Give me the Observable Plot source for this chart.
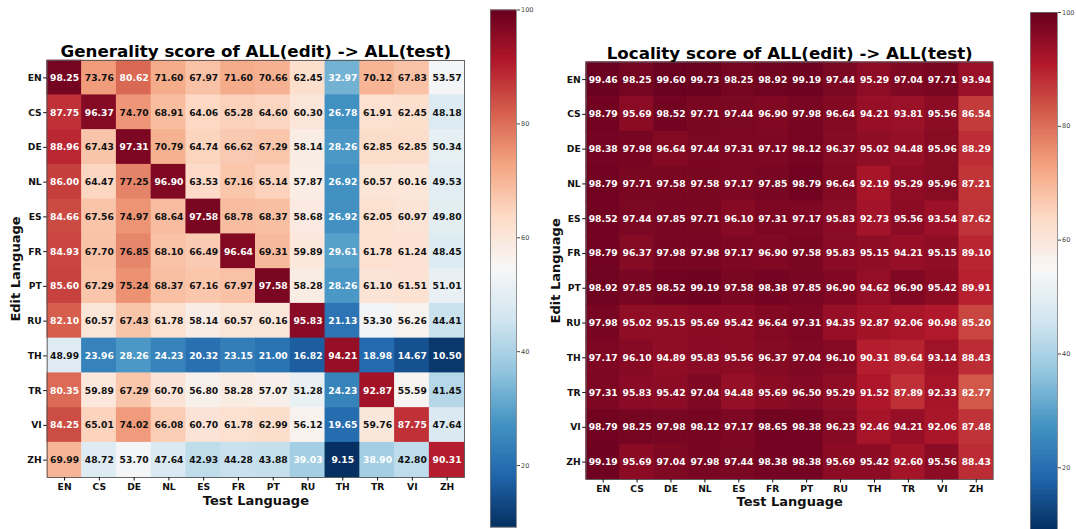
<!DOCTYPE html>
<html>
<head>
<meta charset="utf-8">
<script src="https://cdn.jsdelivr.net/npm/d3@7"></script>
<script src="https://cdn.jsdelivr.net/npm/@observablehq/plot@0.6"></script>
<style>
  html, body { margin: 0; padding: 0; background: #fff; }
  #chart { position: relative; width: 1076px; height: 529px; overflow: hidden; background: #fff; }
  #chart > div { position: absolute; top: 0; }
  #chart svg { overflow: visible; max-width: none !important; }
</style>
</head>
<body>
<div id="chart">
  <div id="genMap" style="left:0px"></div>
  <div id="genBar" style="left:476px"></div>
  <div id="locMap" style="left:540px"></div>
  <div id="locBar" style="left:1016px"></div>
</div>
<script>
// ---- data ----
const langs = ["EN","CS","DE","NL","ES","FR","PT","RU","TH","TR","VI","ZH"];

// rows = edit language, columns = test language
const generality = [
  [98.25, 73.76, 80.62, 71.60, 67.97, 71.60, 70.66, 62.45, 32.97, 70.12, 67.83, 53.57],
  [87.75, 96.37, 74.70, 68.91, 64.06, 65.28, 64.60, 60.30, 26.78, 61.91, 62.45, 48.18],
  [88.96, 67.43, 97.31, 70.79, 64.74, 66.62, 67.29, 58.14, 28.26, 62.85, 62.85, 50.34],
  [86.00, 64.47, 77.25, 96.90, 63.53, 67.16, 65.14, 57.87, 26.92, 60.57, 60.16, 49.53],
  [84.66, 67.56, 74.97, 68.64, 97.58, 68.78, 68.37, 58.68, 26.92, 62.05, 60.97, 49.80],
  [84.93, 67.70, 76.85, 68.10, 66.49, 96.64, 69.31, 59.89, 29.61, 61.78, 61.24, 48.45],
  [85.60, 67.29, 75.24, 68.37, 67.16, 67.97, 97.58, 58.28, 28.26, 61.10, 61.51, 51.01],
  [82.10, 60.57, 67.43, 61.78, 58.14, 60.57, 60.16, 95.83, 21.13, 53.30, 56.26, 44.41],
  [48.99, 23.96, 28.26, 24.23, 20.32, 23.15, 21.00, 16.82, 94.21, 18.98, 14.67, 10.50],
  [80.35, 59.89, 67.29, 60.70, 56.80, 58.28, 57.07, 51.28, 24.23, 92.87, 55.59, 41.45],
  [84.25, 65.01, 74.02, 66.08, 60.70, 61.78, 62.99, 56.12, 19.65, 59.76, 87.75, 47.64],
  [69.99, 48.72, 53.70, 47.64, 42.93, 44.28, 43.88, 39.03,  9.15, 38.90, 42.80, 90.31]
];

const locality = [
  [99.46, 98.25, 99.60, 99.73, 98.25, 98.92, 99.19, 97.44, 95.29, 97.04, 97.71, 93.94],
  [98.79, 95.69, 98.52, 97.71, 97.44, 96.90, 97.98, 96.64, 94.21, 93.81, 95.56, 86.54],
  [98.38, 97.98, 96.64, 97.44, 97.31, 97.17, 98.12, 96.37, 95.02, 94.48, 95.96, 88.29],
  [98.79, 97.71, 97.58, 97.58, 97.17, 97.85, 98.79, 96.64, 92.19, 95.29, 95.96, 87.21],
  [98.52, 97.44, 97.85, 97.71, 96.10, 97.31, 97.17, 95.83, 92.73, 95.56, 93.54, 87.62],
  [98.79, 96.37, 97.98, 97.98, 97.17, 96.90, 97.58, 95.83, 95.15, 94.21, 95.15, 89.10],
  [98.92, 97.85, 98.52, 99.19, 97.58, 98.38, 97.85, 96.90, 94.62, 96.90, 95.42, 89.91],
  [97.98, 95.02, 95.15, 95.69, 95.42, 96.64, 97.31, 94.35, 92.87, 92.06, 90.98, 85.20],
  [97.17, 96.10, 94.89, 95.83, 95.56, 96.37, 97.04, 96.10, 90.31, 89.64, 93.14, 88.43],
  [97.31, 95.83, 95.42, 97.04, 94.48, 95.69, 96.50, 95.29, 91.52, 87.89, 92.33, 82.77],
  [98.79, 98.25, 97.98, 98.12, 97.17, 98.65, 98.38, 96.23, 92.46, 94.21, 92.06, 87.48],
  [99.19, 95.69, 97.04, 97.98, 97.44, 98.38, 98.38, 95.69, 95.42, 92.60, 95.56, 88.43]
];

const colorDomain = [9.15, 100];
const colorbarTicks = [20, 40, 60, 80, 100];
// matplotlib RdBu_r stops (low -> high)
const rdbuStops = ["#053061","#2166ac","#4393c3","#92c5de","#d1e5f0","#f7f7f7","#fddbc7","#f4a582","#d6604d","#b2182b","#67001f"];

// ---- helpers ----
const FONT = "'DejaVu Sans', 'Liberation Sans', sans-serif";
const interp = d3.piecewise(d3.interpolateRgb, rdbuStops);
const colorScale = {type: "linear", domain: colorDomain, interpolate: interp};

function toTable(matrix) {
  return matrix.flatMap((row, i) => row.map((v, j) => ({edit: langs[i], test: langs[j], value: v})));
}

function heatmap(matrix, title, L) {
  const table = toTable(matrix);
  return Plot.plot({
    width: L.width, height: L.height,
    marginLeft: L.ml, marginRight: L.mr, marginTop: L.mt, marginBottom: L.mb,
    style: {fontFamily: FONT, fontWeight: "bold", fontSize: "9.2px", color: "#111", background: "transparent"},
    x: {type: "band", domain: langs, padding: 0, round: false, label: null},
    y: {type: "band", domain: langs, padding: 0, round: false, label: null},
    color: colorScale,
    marks: [
      Plot.cell(table, {x: "test", y: "edit", fill: "value", inset: -0.35}),
      Plot.text(table, {
        x: "test", y: "edit",
        text: d => d.value.toFixed(2),
        fill: d => (d.value >= 80 || d.value < 40) ? "#ffffff" : "#111111",
        fontSize: 9.2, fontWeight: "bold"
      }),
      Plot.frame({stroke: "#555", strokeWidth: 0.9}),
      Plot.axisX({anchor: "bottom", tickSize: 3.5, tickPadding: 2, label: null, fontSize: 9.2, color: "#111"}),
      Plot.axisY({anchor: "left", tickSize: 3.5, tickPadding: 2, label: null, fontSize: 9.2, color: "#111"}),
      Plot.text([title], {frameAnchor: "top", text: d => d, dy: L.titleDy, lineAnchor: "middle", fontSize: 16.7, fontWeight: "bold", fill: "#000"}),
      Plot.text(["Test Language"], {frameAnchor: "bottom", text: d => d, dy: L.xlabDy, lineAnchor: "middle", fontSize: 13, fontWeight: "bold", fill: "#111"}),
      Plot.text(["Edit Language"], {frameAnchor: "left", text: d => d, dx: L.ylabDx, rotate: -90, lineAnchor: "middle", textAnchor: "middle", fontSize: 13, fontWeight: "bold", fill: "#111"})
    ]
  });
}

function colorbar(L) {
  const n = 400;
  const step = (colorDomain[1] - colorDomain[0]) / n;
  const stripes = d3.range(n).map(i => ({lo: colorDomain[0] + i * step, hi: colorDomain[0] + (i + 1) * step}));
  return Plot.plot({
    width: 60, height: 529,
    marginLeft: L.ml, marginRight: 60 - L.ml - L.barW, marginTop: L.mt, marginBottom: L.mb,
    style: {fontFamily: FONT, fontSize: "6.5px", color: "#444", background: "transparent"},
    y: {type: "linear", domain: colorDomain, label: null},
    color: colorScale,
    marks: [
      Plot.rect(stripes, {y1: "lo", y2: d => Math.min(colorDomain[1], d.hi + step * 0.6), fill: d => (d.lo + d.hi) / 2}),
      Plot.frame({stroke: "#777", strokeWidth: 0.8}),
      Plot.axisY({anchor: "right", ticks: colorbarTicks, tickSize: 3, tickPadding: 1.5, label: null, fontSize: 6.5, color: "#444", tickFormat: d3.format("d")})
    ]
  });
}

document.getElementById("genMap").append(heatmap(generality, "Generality score of ALL(edit) -> ALL(test)",
  {width: 470, height: 529, ml: 46.7, mr: 6, mt: 60, mb: 52, titleDy: -8.6, xlabDy: 23, ylabDx: -31.7}));
document.getElementById("genBar").append(colorbar({ml: 14, barW: 26, mt: 9.5, mb: 2.1}));
document.getElementById("locMap").append(heatmap(locality, "Locality score of ALL(edit) -> ALL(test)",
  {width: 460, height: 529, ml: 45.7, mr: 7.3, mt: 61.7, mb: 50, titleDy: -8.7, xlabDy: 22.7, ylabDx: -30.7}));
document.getElementById("locBar").append(colorbar({ml: 14, barW: 27, mt: 12, mb: 0}));
</script>
</body>
</html>
